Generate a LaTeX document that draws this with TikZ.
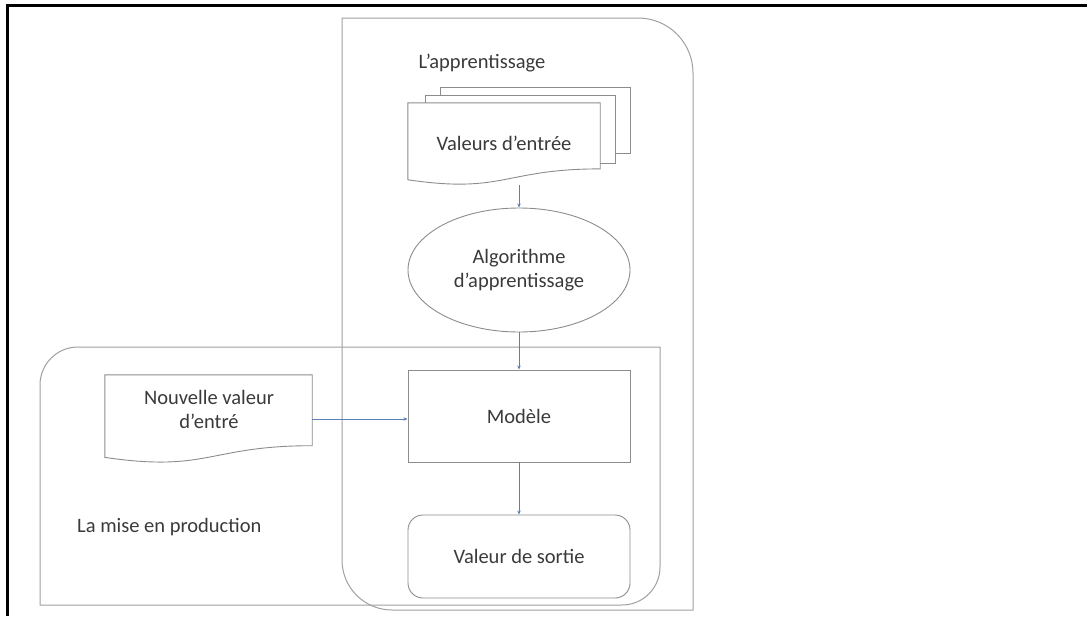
\documentclass[tikz,border=0pt]{standalone}
\usepackage{fontspec}
\setmainfont{Carlito}
\usetikzlibrary{calc,shapes.geometric,arrows.meta}
\definecolor{boxgray}{HTML}{A0A0A0}
\definecolor{docgray}{HTML}{8C8C8C}
\definecolor{txtgray}{HTML}{3A3A3A}
\definecolor{arrowblue}{HTML}{5B7DB8}
\tikzset{
  txt/.style={text=txtgray, font=\fontsize{20.5}{24}\selectfont, align=center, inner sep=0pt},
  docbox/.style={rectangle, draw=none, inner sep=0pt},
  procbox/.style={rectangle, draw=docgray, line width=0.9pt, inner sep=0pt, minimum width=222pt},
  algobox/.style={ellipse, draw=docgray, line width=0.9pt, inner sep=0pt, minimum width=222pt, minimum height=124pt},
  outbox/.style={rectangle, rounded corners=15pt, draw=docgray, line width=0.9pt, inner sep=0pt, minimum width=222pt, minimum height=83pt},
  groupline/.style={draw=boxgray, line width=1pt},
  docline/.style={draw=docgray, line width=0.9pt, fill=white},
  flow/.style={draw=arrowblue, line width=0.8pt, -{Stealth[length=4pt,width=3.5pt]}},
  frameline/.style={draw=black, line width=3pt}
}
\newcommand{\docpath}[1]{%
  \path[docline] let \p1=(#1.north west), \p2=(#1.south east) in
    (\x1,\y1) -- (\x2,\y1) -- (\x2,{\y1+0.802*(\y2-\y1)})
    .. controls ({0.5*(\x1+\x2)},{\y1+0.802*(\y2-\y1)}) and ({0.5*(\x1+\x2)},{\y1+1.107*(\y2-\y1)}) ..
    (\x1,{\y1+0.934*(\y2-\y1)}) -- cycle;}
\begin{document}
\begin{tikzpicture}[x=1pt,y=-1pt]
\useasboundingbox (0,0) rectangle (1087,616);
% outer frame (top and left edges)
\draw[frameline] (1087,5) -- (7,5) -- (7,616);
% group containers
\path[groupline] (342,18) -- (638,18) .. controls (668.4,18) and (693,42.6) .. (693,73)
  -- (693,610) -- (392,610) .. controls (364.4,610) and (342,587.6) .. (342,560) -- cycle;
\path[groupline] (40,385) .. controls (40,364) and (57,347) .. (78,347) -- (660,347)
  -- (660,567) .. controls (660,588) and (643,605) .. (622,605) -- (40,605) -- cycle;
\node[txt] (lapp) at (482,63) {L’apprentissage};
\node[txt, anchor=west] (lprod) at (77,527) {La mise en production};
% multi-document
\path[docline] (440,87) rectangle (630,153);
\path[docline] (425,95) rectangle (615,163);
\node[docbox, minimum width=192pt, minimum height=82pt] (docIn) at (504,144) {};
\docpath{docIn}
\node[txt] (docInT) at (504,143) {Valeurs d’entrée};
% new input document
\node[docbox, minimum width=207pt, minimum height=88pt] (docNew) at (208.5,419) {};
\docpath{docNew}
\node[txt] (docNewT) at (209,409) {Nouvelle valeur\\d’entré};
% process nodes
\node[algobox, txt] (algo) at (519,270) {Algorithme\\d’apprentissage};
\node[procbox, txt, minimum height=92pt] (modele) at (519,416) {Modèle};
\node[outbox, txt] (sortie) at (519,556.5) {Valeur de sortie};
% connectors
\draw[flow] (algo.north |- docIn.south) -- (algo.north);
\draw[flow] (algo.south) -- (modele.north);
\draw[flow] (modele.south) -- (sortie.north);
\draw[flow] (docNew.east) -- (docNew.east -| modele.west);
\end{tikzpicture}
\end{document}
